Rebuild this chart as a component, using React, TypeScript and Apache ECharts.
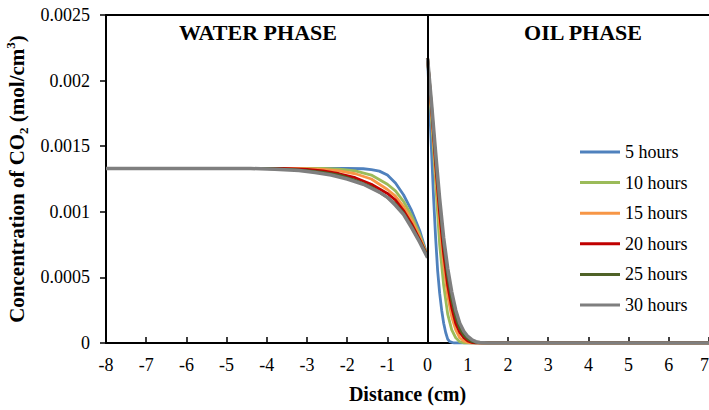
import React, { useEffect, useRef } from "react";
import * as echarts from "echarts";

// ---- data ----
const seriesNames = ["5 hours", "10 hours", "15 hours", "20 hours", "25 hours", "30 hours"];
const seriesColors = ["#4F81BD", "#9BBB59", "#F79646", "#C00000", "#4F6228", "#7F7F7F"];

const yTickValues = [0, 0.0005, 0.001, 0.0015, 0.002, 0.0025];
const yTickLabels = ["0", "0.0005", "0.001", "0.0015", "0.002", "0.0025"];

// water phase (x < 0)
const water5 = [[-8, 0.00133], [-2, 0.00133], [-1.6, 0.001328], [-1.4, 0.001322], [-1.2, 0.00131], [-1.0, 0.00128], [-0.8, 0.00122], [-0.6, 0.00113], [-0.4, 0.00101], [-0.2, 0.00086], [0, 0.00066]];
const water10 = [[-8, 0.00133], [-2.6, 0.00133], [-2.2, 0.001325], [-1.8, 0.001312], [-1.4, 0.00128], [-1.0, 0.00121], [-0.8, 0.00116], [-0.6, 0.00108], [-0.4, 0.00097], [-0.2, 0.00083], [0, 0.00066]];
const water15 = [[-8, 0.00133], [-3.2, 0.00133], [-2.6, 0.001324], [-2.2, 0.001312], [-1.8, 0.00129], [-1.4, 0.00125], [-1.0, 0.00117], [-0.8, 0.00112], [-0.6, 0.00104], [-0.4, 0.00094], [-0.2, 0.00081], [0, 0.00066]];
const water20 = [[-8, 0.00133], [-3.6, 0.00133], [-3.0, 0.001324], [-2.6, 0.001312], [-2.2, 0.00129], [-1.8, 0.00126], [-1.4, 0.00121], [-1.0, 0.00114], [-0.8, 0.00109], [-0.6, 0.00101], [-0.4, 0.00091], [-0.2, 0.00079], [0, 0.00066]];
const water25 = [[-8, 0.00133], [-4.0, 0.00133], [-3.4, 0.001324], [-3.0, 0.001314], [-2.6, 0.0013], [-2.2, 0.00128], [-1.8, 0.00124], [-1.4, 0.00119], [-1.0, 0.00111], [-0.8, 0.00106], [-0.6, 0.00099], [-0.4, 0.00089], [-0.2, 0.00078], [0, 0.00066]];
const water30 = [[-8, 0.00133], [-4.4, 0.00133], [-3.8, 0.001325], [-3.2, 0.001314], [-2.8, 0.0013], [-2.4, 0.00128], [-2.0, 0.00125], [-1.6, 0.00121], [-1.2, 0.00115], [-1.0, 0.00111], [-0.8, 0.00105], [-0.6, 0.00098], [-0.4, 0.00088], [-0.2, 0.00077], [0, 0.00065]];

// oil phase (x > 0)
const oil5 = [[0, 0.00217], [0.05, 0.0018], [0.1, 0.00145], [0.15, 0.0011], [0.2, 0.0008], [0.25, 0.00055], [0.3, 0.00038], [0.35, 0.00025], [0.4, 0.00015], [0.45, 0.00008], [0.5, 0.00003], [0.55, 0.00001], [0.65, 0], [7, 0]];
const oil10 = [[0, 0.00217], [0.1, 0.0017], [0.2, 0.00122], [0.3, 0.00075], [0.4, 0.00044], [0.5, 0.00022], [0.6, 0.0001], [0.7, 0.00004], [0.8, 0.00001], [0.9, 0], [7, 0]];
const oil15 = [[0, 0.00217], [0.1, 0.00175], [0.2, 0.0013], [0.3, 0.00092], [0.4, 0.0006], [0.5, 0.00036], [0.6, 0.0002], [0.7, 0.0001], [0.8, 0.00004], [0.9, 0.000015], [1.0, 0.000005], [1.1, 0], [7, 0]];
const oil20 = [[0, 0.00217], [0.1, 0.00178], [0.2, 0.00136], [0.3, 0.00099], [0.4, 0.00068], [0.5, 0.00044], [0.6, 0.00027], [0.7, 0.00015], [0.8, 0.00008], [0.9, 0.00004], [1.0, 0.000015], [1.1, 0.000005], [1.2, 0], [7, 0]];
const oil25 = [[0, 0.00217], [0.1, 0.0018], [0.2, 0.0014], [0.3, 0.00105], [0.4, 0.00075], [0.5, 0.00051], [0.6, 0.00033], [0.7, 0.0002], [0.8, 0.00011], [0.9, 0.00006], [1.0, 0.00003], [1.1, 0.000012], [1.2, 0.000004], [1.35, 0], [7, 0]];
const oil30 = [[0, 0.00217], [0.1, 0.00182], [0.2, 0.00145], [0.3, 0.0011], [0.4, 0.0008], [0.5, 0.00057], [0.6, 0.00039], [0.7, 0.00025], [0.8, 0.00015], [0.9, 0.00009], [1.0, 0.00005], [1.1, 0.000025], [1.2, 0.00001], [1.3, 0.000004], [1.5, 0], [7, 0]];

const waterData = [water5, water10, water15, water20, water25, water30];
const oilData = [oil5, oil10, oil15, oil20, oil25, oil30];

const FONT = "Liberation Serif";

export default function App() {
  const ref = useRef<HTMLDivElement>(null);

  useEffect(() => {
    if (!ref.current) return;
    const chart = echarts.init(ref.current, undefined, { renderer: "svg" });

    const series: any[] = [];
    seriesNames.forEach((name, i) => {
      const common = {
        name,
        type: "line",
        showSymbol: false,
        symbol: "none",
        color: seriesColors[i],
        lineStyle: { color: seriesColors[i], width: i === 5 ? 3.5 : 2.8, join: "round" },
        emphasis: { disabled: true },
        z: 2,
      };
      series.push({ ...common, data: waterData[i] });
      series.push({ ...common, data: oilData[i] });
    });
    series.push({
      type: "line",
      data: [],
      z: 10,
      silent: true,
      markLine: {
        silent: true,
        symbol: ["none", "none"],
        label: { show: false },
        emphasis: { disabled: true },
        lineStyle: { color: "#000", width: 2, type: "solid" },
        data: [{ xAxis: 0 }],
      },
    });

    chart.setOption({
      animation: false,
      backgroundColor: "#fff",
      textStyle: { fontFamily: FONT },
      grid: { left: 106, top: 15, width: 603, height: 328, containLabel: false, outerBoundsMode: "none" },
      legend: {
        data: seriesNames,
        orient: "vertical",
        left: 575,
        top: 137,
        icon: "rect",
        itemWidth: 40,
        itemHeight: 3,
        itemGap: 10.6,
        selectedMode: false,
        textStyle: { fontFamily: FONT, fontSize: 18, fontWeight: 400, color: "#000", lineHeight: 20 },
      },
      xAxis: [
        {
          type: "value",
          min: -8,
          max: 7,
          interval: 1,
          name: "Distance (cm)",
          nameLocation: "middle",
          nameGap: 41,
          nameTextStyle: { fontFamily: FONT, fontSize: 20, fontWeight: "bold", color: "#000" },
          axisLine: { onZero: false, lineStyle: { color: "#000", width: 2 } },
          axisTick: { show: true, inside: true, length: 6, lineStyle: { color: "#000", width: 1.5 } },
          axisLabel: {
            fontFamily: FONT,
            fontSize: 18,
            fontWeight: 400,
            color: "#000",
            margin: 13,
            alignMaxLabel: "right",
            formatter: (v: number) => String(v),
          },
          splitLine: { show: false },
        },
        {
          type: "value",
          position: "top",
          min: -8,
          max: 7,
          interval: 1,
          axisLine: { show: true, onZero: false, lineStyle: { color: "#000", width: 2 } },
          axisTick: { show: false },
          axisLabel: { show: false },
          splitLine: { show: false },
        },
      ],
      yAxis: {
        type: "value",
        min: 0,
        max: 0.0025,
        interval: 0.0005,
        name: "{b|Concentration of CO}{s|2}{b| (mol/cm}{p|3}{b|)}",
        nameLocation: "middle",
        nameGap: 70,
        nameTextStyle: {
          fontFamily: FONT,
          fontSize: 21,
          fontWeight: "bold",
          color: "#000",
          rich: {
            b: { fontFamily: FONT, fontSize: 21, fontWeight: "bold", color: "#000", lineHeight: 26 },
            s: { fontFamily: FONT, fontSize: 13, fontWeight: "bold", color: "#000", lineHeight: 14, verticalAlign: "bottom" },
            p: { fontFamily: FONT, fontSize: 13, fontWeight: "bold", color: "#000", lineHeight: 14, verticalAlign: "top" },
          },
        },
        axisLine: { show: true, onZero: false, lineStyle: { color: "#000", width: 2 } },
        axisTick: { show: true, inside: false, length: 6, lineStyle: { color: "#000", width: 1.5 } },
        axisLabel: {
          fontFamily: FONT,
          fontSize: 18,
          fontWeight: 400,
          color: "#000",
          margin: 16,
          formatter: (v: number) => {
            const idx = yTickValues.findIndex((t) => Math.abs(t - v) < 1e-9);
            return idx >= 0 ? yTickLabels[idx] : String(v);
          },
        },
        splitLine: { show: false },
      },
      graphic: [
        {
          type: "text",
          x: 258,
          y: 32,
          silent: true,
          style: { text: "WATER PHASE", fill: "#000", fontFamily: FONT, fontSize: 22, fontWeight: "bold", align: "center", verticalAlign: "middle" },
        },
        {
          type: "text",
          x: 583,
          y: 32,
          silent: true,
          style: { text: "OIL PHASE", fill: "#000", fontFamily: FONT, fontSize: 22, fontWeight: "bold", align: "center", verticalAlign: "middle" },
        },
      ],
      series,
    });

    return () => chart.dispose();
  }, []);

  return (
    <div
      ref={ref}
      style={{ position: "absolute", left: 0, top: 0, width: 709, height: 410, background: "#fff" }}
    />
  );
}
